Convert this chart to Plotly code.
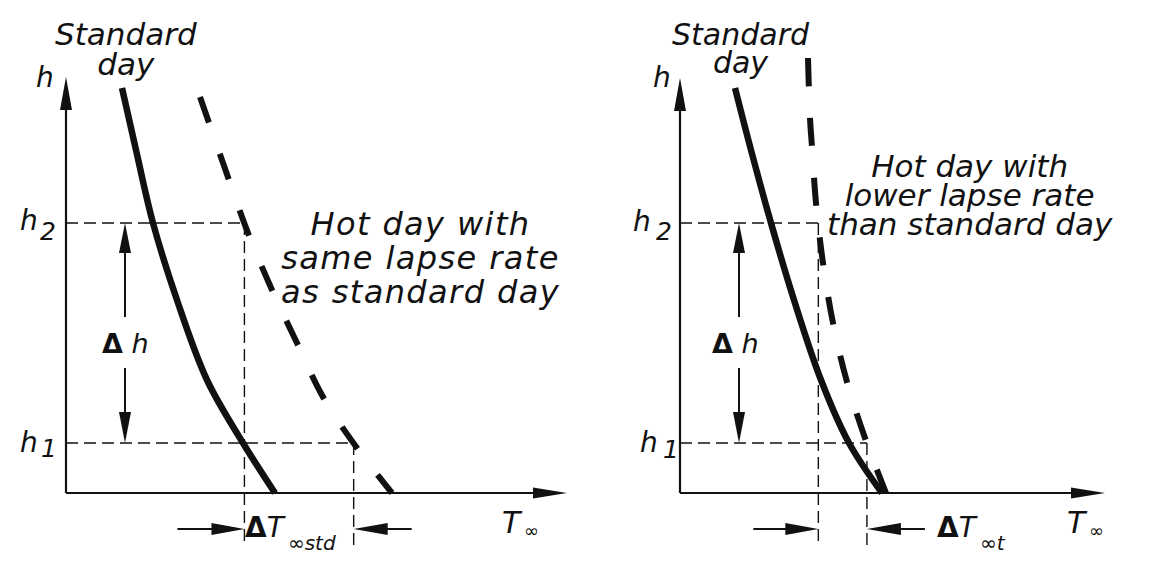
import numpy as np
import plotly.graph_objects as go

# ---------------- data (schematic units: T to the right, h upward) ----------------
h_std = [40.5, 34.3, 27.0, 19.3, 11.3, 5.0, 0.0]
T_std_left = [5.6, 7.0, 8.7, 11.1, 14.1, 17.7, 20.9]
T_std_right = [5.5, 7.1, 9.1, 11.4, 14.1, 16.9, 20.2]

h_hot_left = [39.6, 31.3, 26.0, 20.3, 15.0, 9.6, 4.5, 0.0]
T_hot_left = [13.4, 16.3, 18.2, 20.6, 23.1, 25.7, 29.1, 32.6]

h_hot_right = [43.5, 37.5, 34.6, 29.0, 23.0, 17.0, 11.1, 5.5, 0.0]
T_hot_right = [12.8, 13.0, 13.2, 13.6, 14.3, 15.3, 16.7, 18.5, 20.6]

h1, h2 = 5.0, 27.0
h_axis_top = [41.6, 41.5]
T_axis_end = [50.1, 42.5]
hot_labels = [["Hot day with", "same lapse rate", "as standard day"],
              ["Hot day with", "lower lapse rate", "than standard day"]]
std_label = ["Standard", "day"]
level_digits = ["2", "1"]
dT_sub = ["std", "t"]

# ---------------- layout helpers ----------------
OFF = 8                      # page body margin of the browser
W, H = 1150 - OFF, 562 - OFF
PX = 10.0                    # pixels per schematic unit (both axes)
ORIG = [(66, 493), (680, 493)]  # pixel position of each panel's origin
BLACK = "#111111"
FONT = "DejaVu Sans"
ASCENT = 0.928               # DejaVu Sans ascent (em)

fig = go.Figure()


def P(px, py, i):
    """page-pixel position -> schematic units of panel i"""
    return (px - ORIG[i][0]) / PX, (ORIG[i][1] - py) / PX


def line(x, y, ax, width=2.0, dash=None, shape="linear"):
    xa, ya = ("x", "y") if ax == 0 else ("x2", "y2")
    fig.add_trace(go.Scatter(x=list(x), y=list(y), mode="lines", xaxis=xa, yaxis=ya,
                             line=dict(color=BLACK, width=width, dash=dash, shape=shape,
                                       smoothing=1.0 if shape == "spline" else None),
                             hoverinfo="skip", showlegend=False))


def head(tip_x, tip_y, dx, dy, ax, L=32, Wd=12):
    xr, yr = ("x", "y") if ax == 0 else ("x2", "y2")
    bx, by = tip_x - dx * L / PX, tip_y - dy * L / PX
    pxv, pyv = -dy, dx
    c1 = (bx + pxv * Wd / (2 * PX), by + pyv * Wd / (2 * PX))
    c2 = (bx - pxv * Wd / (2 * PX), by - pyv * Wd / (2 * PX))
    fig.add_shape(type="path", xref=xr, yref=yr,
                  path=f"M {tip_x},{tip_y} L {c1[0]},{c1[1]} L {c2[0]},{c2[1]} Z",
                  fillcolor=BLACK, line=dict(width=0))


def text(t, px, py, ax, size, xanchor="center", yanchor="middle"):
    xr, yr = ("x", "y") if ax == 0 else ("x2", "y2")
    x, y = P(px, py, ax)
    fig.add_annotation(text=t, x=x, y=y, xref=xr, yref=yr, showarrow=False,
                       xanchor=xanchor, yanchor=yanchor, borderpad=0, borderwidth=0,
                       font=dict(family=FONT, size=size, color=BLACK))


def block(lines, px, first_baseline, spacing, ax, size, letter=0.0):
    """multi-line italic text with a tight line spacing, as one text element"""
    style = f"font-size:{size}px" + (f";letter-spacing:{letter}px" if letter else "")
    t = "<br>".join(f'<span style="{style}"><i>{s}</i></span>' for s in lines)
    text(t, px, first_baseline - ASCENT * size, ax, spacing / 1.3, yanchor="top")


panels = [
    dict(T_std=T_std_left, h_hot=h_hot_left, T_hot=T_hot_left, dash="27px,33px"),
    dict(T_std=T_std_right, h_hot=h_hot_right, T_hot=T_hot_right, dash="28px,32px"),
]

h_low = -5.4      # lower end of the vertical guides
h_arrow = -3.6    # level of the Delta-T arrows
dash_thin = "12px,6px"

for i, p in enumerate(panels):
    # axes with arrows
    line([0, 0], [0, h_axis_top[i] - 2.5], i, width=2.2)
    head(0, h_axis_top[i], 0, 1, i, L=33, Wd=12)
    line([0, T_axis_end[i] - 2.5], [0, 0], i, width=2.2)
    head(T_axis_end[i], 0, 1, 0, i, L=34, Wd=11)

    # temperature of the hot-day curve at h1 and h2
    hh = p["h_hot"][::-1]
    th = p["T_hot"][::-1]
    T_at_h2 = float(np.interp(h2, hh, th))
    T_at_h1 = float(np.interp(h1, hh, th))

    # dashed guides
    line([0, T_at_h2], [h2, h2], i, width=1.4, dash=dash_thin)
    line([T_at_h2, T_at_h2], [h2, h_low], i, width=1.4, dash=dash_thin)
    line([0, T_at_h1], [h1, h1], i, width=1.4, dash=dash_thin)
    line([T_at_h1, T_at_h1], [h1, h_low], i, width=1.4, dash=dash_thin)

    # curves
    line(p["T_std"], h_std, i, width=6.5, shape="spline")
    line(p["T_hot"], p["h_hot"], i, width=6, dash=p["dash"], shape="spline")

    # Delta h arrows
    xh = 5.9
    line([xh, xh], [17.6, h2 - 2.0], i, width=2)
    head(xh, h2, 0, 1, i, L=30, Wd=12)
    line([xh, xh], [12.5, h1 + 2.0], i, width=2)
    head(xh, h1, 0, -1, i, L=31, Wd=12)

    # Delta T arrows
    left_tail = [6.7, 6.5][i]
    right_tail = [5.8, 5.8][i]
    line([T_at_h2 - left_tail, T_at_h2 - 2.0], [h_arrow, h_arrow], i, width=2)
    head(T_at_h2, h_arrow, 1, 0, i, L=33, Wd=12)
    line([T_at_h1 + right_tail, T_at_h1 + 2.0], [h_arrow, h_arrow], i, width=2)
    head(T_at_h1, h_arrow, -1, 0, i, L=34, Wd=12)

# ---------------- text (positions in page pixels) ----------------
# left panel
block(std_label, 126, 45, 30, 0, 31)
text("<i>h</i>", 45, 77, 0, 28)
text("<i>h</i>", 38, 220, 0, 28, xanchor="right")
text(f"<i>{level_digits[0]}</i>", 40, 231, 0, 25, xanchor="left")
text("<i>h</i>", 38, 442, 0, 28, xanchor="right")
text(f"<i>{level_digits[1]}</i>", 41, 448, 0, 25, xanchor="left")
text("<b>Δ</b> <i>h</i>", 125, 343, 0, 27)
block(hot_labels[0], 420, 235, 34, 0, 32, letter=1.4)
text("<b>Δ</b><i>T</i>", 286, 527, 0, 28, xanchor="right")
text(f"∞<i>{dT_sub[0]}</i>", 288, 543, 0, 20, xanchor="left")
text("<i>T</i>", 523, 522, 0, 30, xanchor="right")
text("∞", 524, 530, 0, 18, xanchor="left")

# right panel
block(std_label, 741, 45, 28, 1, 30)
text("<i>h</i>", 662, 77, 1, 28)
text("<i>h</i>", 651, 221, 1, 28, xanchor="right")
text(f"<i>{level_digits[0]}</i>", 656, 231, 1, 25, xanchor="left")
text("<i>h</i>", 658, 442, 1, 28, xanchor="right")
text(f"<i>{level_digits[1]}</i>", 663, 449, 1, 25, xanchor="left")
text("<b>Δ</b> <i>h</i>", 735, 343, 1, 27)
block(hot_labels[1], 970, 177, 29, 1, 31)
text("<b>Δ</b><i>T</i>", 978, 527, 1, 28, xanchor="right")
text(f"∞<i>{dT_sub[1]}</i>", 980, 543, 1, 20, xanchor="left")
text("<i>T</i>", 1088, 522, 1, 30, xanchor="right")
text("∞", 1089, 530, 1, 18, xanchor="left")


# ---------------- axes (hidden, used as pixel-accurate scales) ----------------
def xr(p0, p1, i):
    return [(p0 - ORIG[i][0]) / PX, (p1 - ORIG[i][0]) / PX]


SPLIT = 575
yrange = [(ORIG[0][1] - (H + OFF)) / PX, (ORIG[0][1] - OFF) / PX]
hidden = dict(visible=False, showgrid=False, zeroline=False, fixedrange=True)
fig.update_layout(
    width=W, height=H, margin=dict(l=0, r=0, t=0, b=0),
    paper_bgcolor="white", plot_bgcolor="white",
    xaxis=dict(domain=[0, (SPLIT - OFF) / W], range=xr(OFF, SPLIT, 0), **hidden),
    yaxis=dict(domain=[0, 1], range=yrange, **hidden),
    xaxis2=dict(domain=[(SPLIT - OFF) / W, 1], range=xr(SPLIT, W + OFF, 1), anchor="y2", **hidden),
    yaxis2=dict(domain=[0, 1], range=yrange, anchor="x2", **hidden),
    showlegend=False,
)

fig.write_html("out.html")
